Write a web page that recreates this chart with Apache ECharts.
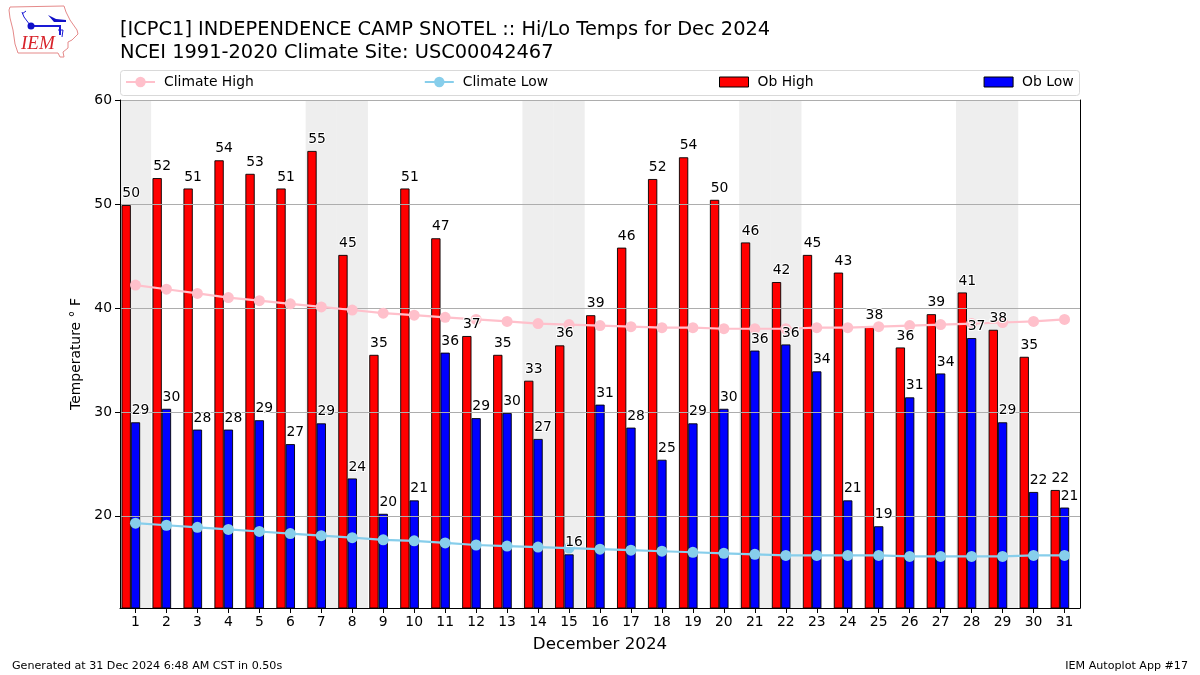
<!DOCTYPE html>
<html><head><meta charset="utf-8">
<style>html,body{margin:0;padding:0;background:#fff}#c{width:1200px;height:675px}</style>
<script src="https://cdn.jsdelivr.net/npm/echarts@6/dist/echarts.min.js"></script>
</head><body><div id="c"></div>
<script>
const days = ['1','2','3','4','5','6','7','8','9','10','11','12','13','14','15','16','17','18','19','20','21','22','23','24','25','26','27','28','29','30','31'];
const obHigh = [49.9,52.49,51.49,54.2,52.9,51.49,55.1,45.1,35.49,51.49,46.7,37.3,35.49,33.0,36.4,39.3,45.8,52.4,54.49,50.4,46.3,42.49,45.1,43.4,38.2,36.2,39.4,41.49,37.9,35.3,22.49];
const obLow = [29.0,30.3,28.3,28.3,29.2,26.9,28.9,23.6,20.2,21.49,35.7,29.4,29.9,27.4,16.3,30.7,28.49,25.4,28.9,30.3,35.9,36.49,33.9,21.49,19.0,31.4,33.7,37.1,29.0,22.3,20.8];
const climateHigh = [42.2,41.8,41.4,41.0,40.7,40.4,40.1,39.8,39.5,39.3,39.1,38.9,38.7,38.5,38.4,38.3,38.2,38.1,38.1,38.0,38.0,38.0,38.1,38.1,38.2,38.3,38.4,38.5,38.6,38.7,38.9];
const climateLow = [19.3,19.1,18.9,18.7,18.5,18.3,18.1,17.9,17.7,17.6,17.4,17.2,17.1,17.0,16.9,16.8,16.7,16.6,16.5,16.4,16.3,16.2,16.2,16.2,16.2,16.1,16.1,16.1,16.1,16.2,16.2];
const weekendDays = ['1','7','8','14','15','21','22','28','29'];
const yTicks = [20,30,40,50,60];
const yMin = 11.14, yMax = 60;
const titleText = '[ICPC1] INDEPENDENCE CAMP SNOTEL :: Hi/Lo Temps for Dec 2024\nNCEI 1991-2020 Climate Site: USC00042467';

const font = 'DejaVu Sans';
const valueLabel = dx => ({
  show:true, position:'top', distance:4, offset:[dx,0], color:'#000', fontFamily:font, fontSize:13.9, opacity:1,
  textBorderColor:'#fff', textBorderWidth:2, formatter:p=>Math.round(+p.data)
});
const labelCarrier = (name,data,dx) => ({
  name,type:'scatter',z:4,silent:true,symbolSize:1,itemStyle:{color:'rgba(0,0,0,0)'},label:valueLabel(dx),data
});
const legendText = {fontFamily:font,fontSize:13.9,color:'#000'};
const chart = echarts.init(document.getElementById('c'),null,{renderer:'canvas'});
chart.setOption({
  animation:false,
  backgroundColor:'#fff',
  title:[
    {text:titleText,left:120,top:19,padding:0,textStyle:{fontFamily:font,fontSize:19.4,fontWeight:'normal',color:'#000',lineHeight:22.5}},
    {text:'Generated at 31 Dec 2024 6:48 AM CST in 0.50s',left:12,top:661,padding:0,textStyle:{fontFamily:font,fontSize:11.11,fontWeight:'normal',color:'#000'}},
    {text:'IEM Autoplot App #17',right:12,top:661,padding:0,textStyle:{fontFamily:font,fontSize:11.11,fontWeight:'normal',color:'#000'}}
  ],
  legend:[
    {left:125,top:75,padding:0,itemGap:170,itemWidth:29,itemHeight:13,
     textStyle:{...legendText,padding:[0,0,0,4]},data:['Climate High','Climate Low']},
    {left:719,top:75,padding:0,itemGap:170,itemWidth:29,itemHeight:10,
     textStyle:{...legendText,padding:[0,0,0,4]},
     data:[{name:'Ob High',icon:'rect',itemStyle:{borderWidth:1}},{name:'Ob Low',icon:'rect',itemStyle:{borderWidth:1}}]}
  ],
  grid:{left:120,top:100,width:960,height:508,containLabel:false},
  xAxis:[
    {type:'category',data:days,position:'bottom',
     axisLine:{show:true,lineStyle:{color:'#000',width:1}},
     axisTick:{show:true,alignWithLabel:true,length:5,lineStyle:{color:'#000',width:1}},
     axisLabel:{color:'#000',fontFamily:font,fontSize:13.9,margin:7,interval:0},
     splitLine:{show:false},
     name:'December 2024',nameLocation:'middle',nameGap:28,
     nameTextStyle:{fontFamily:font,fontSize:16.7,color:'#000'}},
    {type:'category',data:days,position:'top',
     axisLine:{show:true,lineStyle:{color:'#000',width:1}},
     axisTick:{show:false},axisLabel:{show:false},splitLine:{show:false}}
  ],
  yAxis:[
    {type:'value',min:yMin,max:yMax,position:'left',z:1,
     axisLine:{show:true,lineStyle:{color:'#000',width:1}},
     axisTick:{show:true,length:5,customValues:yTicks,lineStyle:{color:'#000',width:1}},
     axisLabel:{color:'#000',fontFamily:font,fontSize:13.9,margin:8,customValues:yTicks,padding:[2,0,0,0]},
     splitLine:{show:true,lineStyle:{color:'#adadad',width:1,type:'solid'}},
     name:'Temperature \u00b0 F',
     nameLocation:'middle',nameGap:37,nameRotate:90,
     nameTextStyle:{fontFamily:font,fontSize:13.9,color:'#000'}},
    {type:'value',min:yMin,max:yMax,position:'right',
     axisLine:{show:true,onZero:false,lineStyle:{color:'#000',width:1}},
     axisTick:{show:false},axisLabel:{show:false},splitLine:{show:false}}
  ],
  series:[
    {name:'Weekend',type:'bar',xAxisIndex:1,yAxisIndex:0,barWidth:'101%',z:0,silent:true,
     itemStyle:{color:'#eeeeee'},data:days.map(d=>weekendDays.includes(d)?yMax:null)},
    {name:'Ob High',type:'bar',barWidth:9.3,barGap:0,z:0.5,
     itemStyle:{color:'#ff0000',borderColor:'#000',borderWidth:0.9},data:obHigh},
    {name:'Ob Low',type:'bar',barWidth:9.3,barGap:0,z:0.5,
     itemStyle:{color:'#0000ff',borderColor:'#000',borderWidth:0.9},data:obLow},
    {name:'spacer',type:'bar',barWidth:9.3,barGap:0,z:0.5,data:days.map(()=>null)},
    {name:'Climate High',type:'line',z:3,symbol:'circle',symbolSize:11,
     lineStyle:{color:'#ffc0cb',width:2.2},itemStyle:{color:'#ffc0cb'},data:climateHigh},
    {name:'Climate Low',type:'line',z:3,symbol:'circle',symbolSize:11,
     lineStyle:{color:'#87ceeb',width:2.2},itemStyle:{color:'#87ceeb'},data:climateLow},
    labelCarrier('Ob High labels',obHigh,-4.3),
    labelCarrier('Ob Low labels',obLow,5)
  ],
  graphic:[
    {type:'rect',silent:true,z:0,shape:{x:120.5,y:70.5,width:959,height:25,r:3},style:{fill:'#fff',stroke:'#d9d9d9',lineWidth:1}},
    {type:'polygon',silent:true,shape:{points:[[10,7],[64,6],[66,12],[70,20],[77,30],[78,34],[72,40],[68,42],[68,48],[63,52],[64,57],[60,57],[58,53],[18,53],[15,44],[13,30],[10,18],[9,10]]},style:{fill:'#fff',stroke:'#e58a8a',lineWidth:1}},
    {type:'polyline',silent:true,shape:{points:[[31,26],[60,26],[60,35]]},style:{fill:'none',stroke:'#1a1ad6',lineWidth:2}},
    {type:'polyline',silent:true,shape:{points:[[30,25],[24,17],[22,12]]},style:{fill:'none',stroke:'#1a1ad6',lineWidth:1}},
    {type:'polyline',silent:true,shape:{points:[[22,14],[26,11]]},style:{fill:'none',stroke:'#1a1ad6',lineWidth:1}},
    {type:'circle',silent:true,shape:{cx:31,cy:26,r:3.5},style:{fill:'#1010c8'}},
    {type:'polygon',silent:true,shape:{points:[[48,15],[56,19],[66,20],[66,22],[54,22]]},style:{fill:'#1010c8'}},
    {type:'polyline',silent:true,shape:{points:[[58,30],[63,30],[62,37]]},style:{fill:'none',stroke:'#1a1ad6',lineWidth:1}},
    {type:'text',silent:true,x:21,y:34,style:{text:'IEM',fill:'#d8232a',fontFamily:'Liberation Serif',fontStyle:'italic',fontSize:19}}
  ]
});
</script></body></html>
